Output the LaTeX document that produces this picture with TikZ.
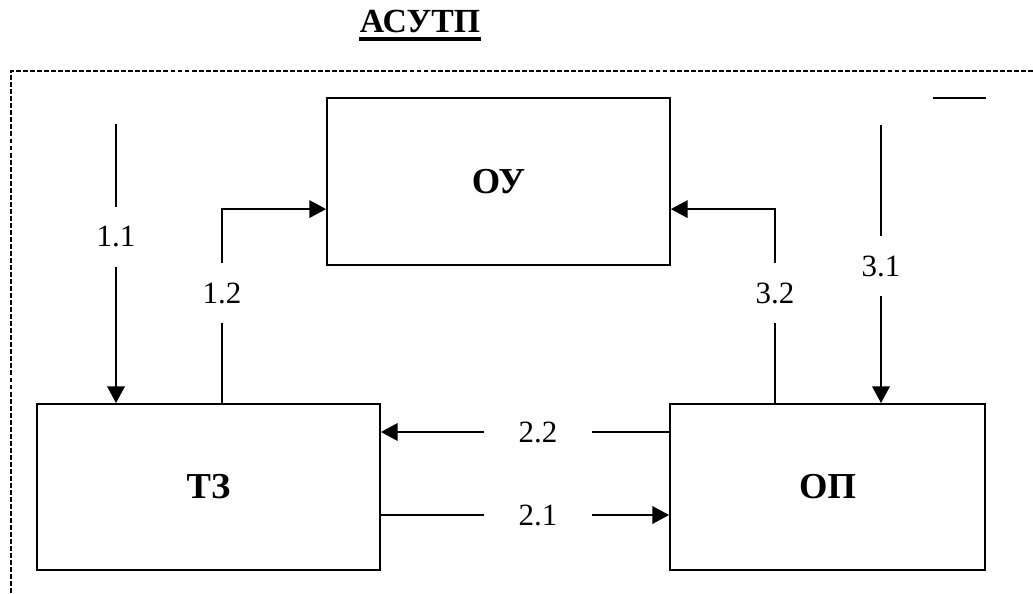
\documentclass[tikz,border=0pt]{standalone}
\usepackage{fontspec}
\setmainfont{Liberation Serif}
\usetikzlibrary{arrows.meta}
\begin{document}
\begin{tikzpicture}[>={Triangle[length=4.2mm,width=4.4mm]},line width=1.3pt,
  blk/.style={draw,rectangle,inner sep=0pt,font=\fontsize{26}{30}\selectfont\bfseries},
  vlbl/.style={inner sep=0pt,minimum height=1.45cm,font=\fontsize{22}{26}\selectfont},
  hlbl/.style={inner sep=0pt,minimum width=2.65cm,font=\fontsize{22}{26}\selectfont}]
\useasboundingbox (0,0) rectangle (25.825,14.825);
\draw[line width=1pt,dash pattern=on 3.5pt off 1.5pt] (25.825,13.05) -- (0.275,13.05) -- (0.275,0);
\node[inner sep=0pt,anchor=base east,font=\fontsize{24}{28}\selectfont\bfseries] (title) at (12.025,14.0) {АСУТП};
\draw[line width=2.8pt] ([yshift=-4.3pt]title.base west) -- ([yshift=-4.3pt]title.base east);
\node[blk,minimum width=8.575cm,minimum height=4.175cm] (ou) at (12.4625,10.2875) {ОУ};
\node[blk,minimum width=8.575cm,minimum height=4.15cm] (tz) at (5.2125,2.65) {ТЗ};
\node[blk,minimum width=7.875cm,minimum height=4.15cm] (op) at (20.6875,2.65) {ОП};
\node[vlbl] (l11) at (2.9,8.9) {1.1};
\node[vlbl] (l12) at (5.55,7.5) {1.2};
\node[vlbl] (l32) at (19.375,7.5) {3.2};
\node[vlbl] (l31) at (22.025,8.175) {3.1};
\node[hlbl] (l22) at (13.45,4.025) {2.2};
\node[hlbl] (l21) at (13.45,1.95) {2.1};
\coordinate (c11) at (2.9,11.725);
\coordinate (c31) at (22.025,11.7);
\coordinate (in12) at ([yshift=-0.69cm]ou.west);
\coordinate (in32) at ([yshift=-0.69cm]ou.east);
\draw[->] (c11) -- (l11) -- (l11 |- tz.north);
\draw[->] (tz.north -| l12) -- (l12) -- (l12 |- in12) -- (in12);
\draw[->] (op.north -| l32) -- (l32) -- (l32 |- in32) -- (in32);
\draw[->] (c31) -- (l31) -- (l31 |- op.north);
\draw[->] (op.west |- l22) -- (l22) -- (l22 -| tz.east);
\draw[->] (tz.east |- l21) -- (l21) -- (l21 -| op.west);
% short mark at top right
\coordinate (m1) at (23.325,12.375);
\coordinate (m2) at (24.65,12.375);
\draw (m1) -- (m2);
\end{tikzpicture}
\end{document}
